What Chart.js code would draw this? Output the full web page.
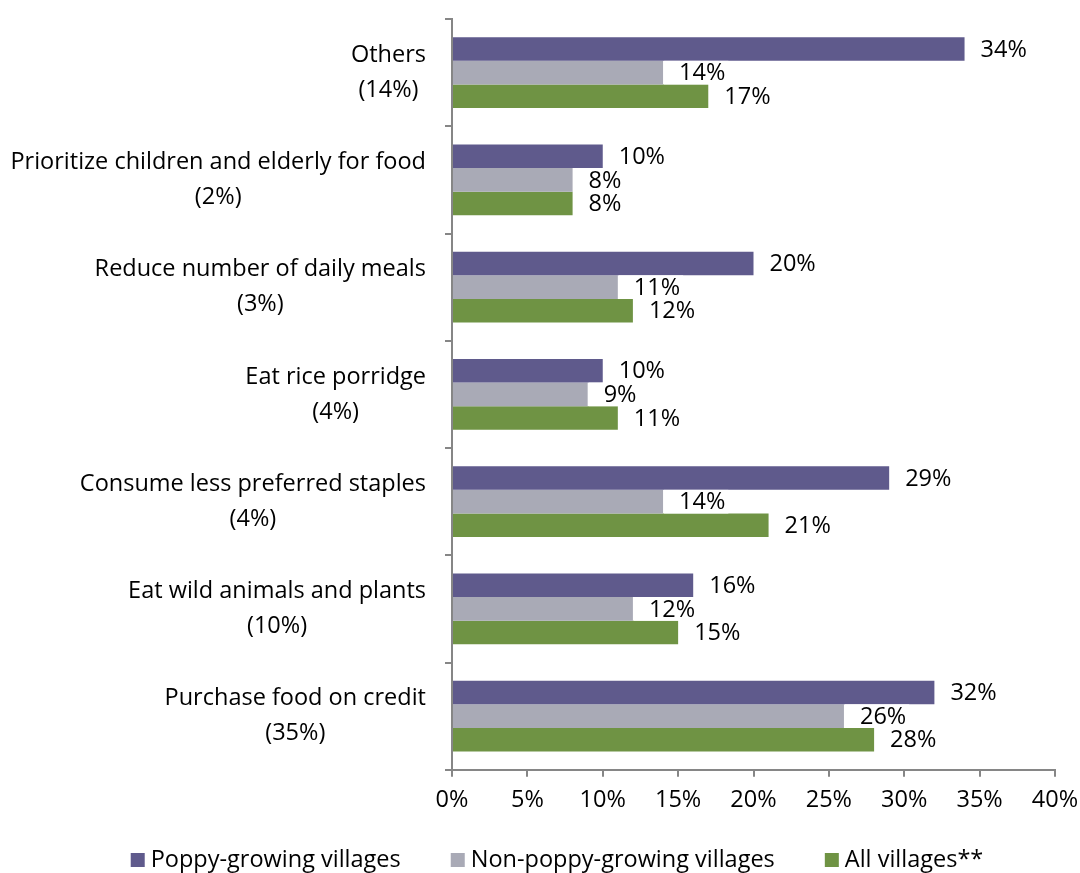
<!DOCTYPE html>
<html lang="en">
<head>
    <meta charset="UTF-8">
    <title>Coping strategies</title>
    <script src="https://cdn.jsdelivr.net/npm/chart.js"></script>
    <style>
        body { margin: 0; background: #fff; }
        #wrap { width: 1080px; height: 873px; }
    </style>
</head>
<body>
    <div id="wrap"><canvas id="grafico"></canvas></div>
    <script>
        // categories, top to bottom
        const categorias = [
            ["Others", "(14%)"],
            ["Prioritize children and elderly for food", "(2%)"],
            ["Reduce number of daily meals", "(3%)"],
            ["Eat rice porridge", "(4%)"],
            ["Consume less preferred staples", "(4%)"],
            ["Eat wild animals and plants", "(10%)"],
            ["Purchase food on credit", "(35%)"]
        ];
        const poppy = [34, 10, 20, 10, 29, 16, 32];
        const nonPoppy = [14, 8, 11, 9, 14, 12, 26];
        const allVillages = [17, 8, 12, 11, 21, 15, 28];
        const seriesNames = ["Poppy-growing villages", "Non-poppy-growing villages", "All villages**"];
        const seriesColors = ["#5F5A8C", "#A9AAB6", "#6F9344"];

        const FONT = "'Open Sans', sans-serif";
        const FSIZE = 23.5;
        const axisGrey = "#868686";

        // category labels: lines centred on each other, block right-aligned
        const labelPlugin = {
            id: "catLabels",
            afterDraw(chart) {
                const ctx = chart.ctx;
                const y = chart.scales.y;
                const right = y.right - 26;
                ctx.save();
                ctx.font = FSIZE + "px " + FONT;
                ctx.fillStyle = "#000";
                ctx.textAlign = "center";
                ctx.textBaseline = "middle";
                categorias.forEach((lines, i) => {
                    const w = Math.max(...lines.map(l => ctx.measureText(l).width));
                    const cx = right - w / 2;
                    const cy = y.getPixelForValue(i);
                    lines.forEach((l, k) => {
                        ctx.fillText(l, cx, cy + (k - (lines.length - 1) / 2) * 35);
                    });
                });
                ctx.restore();
            }
        };

        // value labels after each bar
        const valuePlugin = {
            id: "valores",
            afterDatasetsDraw(chart) {
                const ctx = chart.ctx;
                ctx.save();
                ctx.font = FSIZE + "px " + FONT;
                ctx.textBaseline = "middle";
                ctx.textAlign = "left";
                chart.data.datasets.forEach((ds, di) => {
                    chart.getDatasetMeta(di).data.forEach((bar, i) => {
                        const txt = ds.data[i] + "%";
                        const x = bar.x + 16;
                        if (di === 1) {
                            const w = ctx.measureText(txt).width;
                            ctx.fillStyle = "#fff";
                            ctx.fillRect(bar.x + 1, bar.y - bar.height / 2, w + 18, bar.height);
                        }
                        ctx.fillStyle = "#000";
                        ctx.fillText(txt, x, bar.y + 1);
                    });
                });
                ctx.restore();
            }
        };

        // legend drawn by hand so the spacing matches
        const legendPlugin = {
            id: "leyenda",
            afterDraw(chart) {
                const ctx = chart.ctx;
                ctx.save();
                ctx.font = FSIZE + "px " + FONT;
                ctx.textBaseline = "middle";
                ctx.textAlign = "left";
                const box = 14, gapText = 6, gapItem = 50;
                const widths = seriesNames.map(n => box + gapText + ctx.measureText(n).width);
                const total = widths.reduce((a, b) => a + b, 0) + gapItem * (widths.length - 1);
                let x = 557 - total / 2;
                const yMid = 860;
                seriesNames.forEach((n, i) => {
                    ctx.fillStyle = seriesColors[i];
                    ctx.fillRect(x, yMid - box / 2, box, box);
                    ctx.fillStyle = "#000";
                    ctx.fillText(n, x + box + gapText, yMid);
                    x += widths[i] + gapItem;
                });
                ctx.restore();
            }
        };

        new Chart(document.getElementById("grafico"), {
            type: "bar",
            data: {
                labels: categorias,
                datasets: seriesNames.map((n, i) => ({
                    label: n,
                    data: [poppy, nonPoppy, allVillages][i],
                    backgroundColor: seriesColors[i]
                }))
            },
            options: {
                indexAxis: "y",
                responsive: true,
                maintainAspectRatio: false,
                animation: false,
                datasets: { bar: { categoryPercentage: 0.66, barPercentage: 1 } },
                layout: { padding: { top: 19, right: 0, left: 0, bottom: 50 } },
                scales: {
                    x: {
                        min: 0, max: 40,
                        afterFit(scale) { scale.paddingRight = 25; },
                        ticks: {
                            stepSize: 5,
                            callback: v => v + "%",
                            color: "#000",
                            font: { family: FONT, size: FSIZE },
                            padding: 9
                        },
                        grid: { drawOnChartArea: false, color: axisGrey, lineWidth: 2, tickLength: 7 },
                        border: { color: axisGrey, width: 2 }
                    },
                    y: {
                        ticks: { display: false },
                        afterFit(scale) { scale.width = 452; },
                        grid: { drawOnChartArea: false, color: axisGrey, lineWidth: 2, tickLength: 7, offset: true },
                        border: { color: axisGrey, width: 2 }
                    }
                },
                plugins: {
                    legend: { display: false },
                    tooltip: { enabled: false }
                }
            },
            plugins: [labelPlugin, valuePlugin, legendPlugin]
        });
    </script>
</body>
</html>
